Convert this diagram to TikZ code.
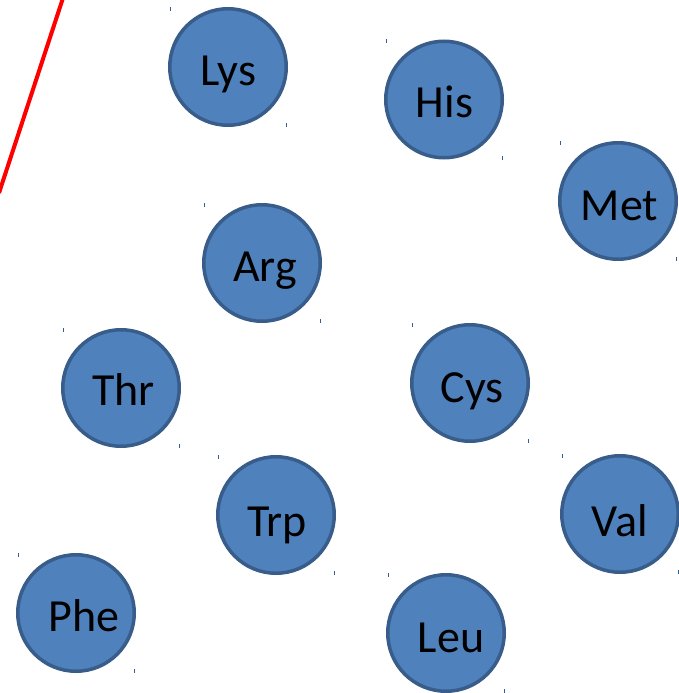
\documentclass[tikz,border=0pt]{standalone}
\usepackage{fontspec}
\setmainfont{Carlito}
\definecolor{ballfill}{HTML}{4F81BD}
\definecolor{balledge}{HTML}{385D8A}
\begin{document}
\begin{tikzpicture}[x=1pt,y=-1pt,
  ball/.style={circle,fill=ballfill,draw=balledge,line width=3.5pt,minimum size=116.5pt,inner sep=0pt},
  lbl/.style={anchor=base,inner sep=0pt,font=\fontsize{46}{46}\selectfont,text=black},
  tick/.style={draw=balledge,line width=1pt}]
\path[use as bounding box] (0,0) rectangle (679,693);
\begin{scope}
\clip (0,0) rectangle (679,693);
% red line at the top left
\coordinate (rtop) at (63,-2);
\coordinate (rbot) at (-1,193);
\draw[red,line width=4pt] (rtop) -- (rbot);
% amino acid balls: name / centre / text x / text baseline
\foreach \n/\t/\cx/\cy/\tx/\ty in {
  lys/Lys/228/67/228/85,
  his/His/444/99.5/444.5/117,
  met/Met/618/201/619.5/220,
  arg/Arg/262/263/265/281,
  thr/Thr/121/388/123.5/405,
  cys/Cys/470/383/472/402,
  trp/Trp/276/515/277/536,
  val/Val/620/514/620/536,
  phe/Phe/76/613/84/631,
  leu/Leu/446/633/451/652}{
  \node[ball] (\n) at (\cx,\cy) {};
  \node[lbl] (\n-t) at (\tx,\ty) {\t};
  \draw[tick] ([shift={(-58,-60)}]\n.center) -- ([shift={(-58,-56)}]\n.center);
  \draw[tick] ([shift={(58,56)}]\n.center) -- ([shift={(58,60)}]\n.center);
}
\end{scope}
\end{tikzpicture}
\end{document}
